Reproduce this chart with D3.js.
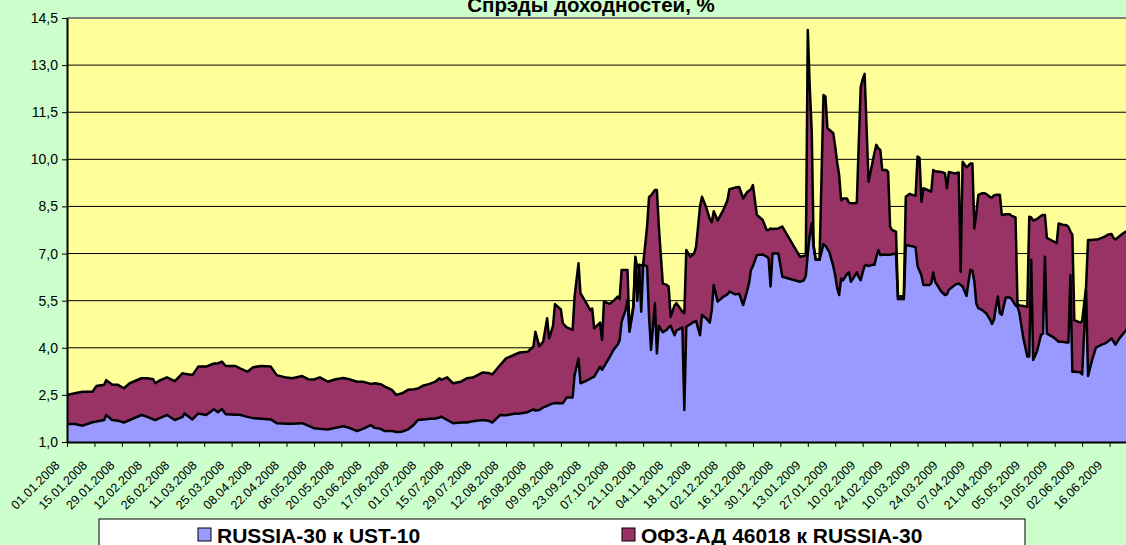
<!DOCTYPE html>
<html lang="ru">
<head>
<meta charset="UTF-8">
<title>Спрэды доходностей, %</title>
<script src="https://d3js.org/d3.v7.min.js"></script>
<style>
    body { margin: 0; background: #CCFFCC; }
    svg { display: block; font-family: Arial, "Liberation Sans", sans-serif; }
</style>
</head>
<body>
<div id="chart"></div>
<script>
// Dates of observations
const dates = [
    "01.01.2008","05.01.2008","09.01.2008","14.01.2008","16.01.2008","20.01.2008","21.01.2008","24.01.2008","27.01.2008","30.01.2008",
    "02.02.2008","08.02.2008","11.02.2008","14.02.2008","15.02.2008","17.02.2008","21.02.2008","25.02.2008","29.02.2008","01.03.2008",
    "05.03.2008","08.03.2008","12.03.2008","16.03.2008","18.03.2008","20.03.2008","22.03.2008","27.03.2008","29.03.2008","02.04.2008",
    "05.04.2008","09.04.2008","14.04.2008","17.04.2008","22.04.2008","25.04.2008","30.04.2008","03.05.2008","06.05.2008","09.05.2008",
    "13.05.2008","17.05.2008","21.05.2008","24.05.2008","28.05.2008","31.05.2008","04.06.2008","06.06.2008","09.06.2008","11.06.2008",
    "15.06.2008","17.06.2008","20.06.2008","23.06.2008","26.06.2008","28.06.2008","01.07.2008","04.07.2008","07.07.2008","09.07.2008",
    "10.07.2008","13.07.2008","16.07.2008","20.07.2008","23.07.2008","26.07.2008","31.07.2008","03.08.2008","05.08.2008","09.08.2008",
    "12.08.2008","16.08.2008","19.08.2008","23.08.2008","26.08.2008","27.08.2008","29.08.2008","31.08.2008","02.09.2008","03.09.2008",
    "05.09.2008","06.09.2008","09.09.2008","10.09.2008","12.09.2008","15.09.2008","16.09.2008","18.09.2008","19.09.2008","22.09.2008",
    "24.09.2008","25.09.2008","26.09.2008","29.09.2008","30.09.2008","01.10.2008","04.10.2008","06.10.2008","08.10.2008","09.10.2008",
    "10.10.2008","12.10.2008","13.10.2008","14.10.2008","16.10.2008","17.10.2008","18.10.2008","19.10.2008","20.10.2008","21.10.2008",
    "23.10.2008","24.10.2008","25.10.2008","27.10.2008","28.10.2008","29.10.2008","31.10.2008","02.11.2008","03.11.2008","04.11.2008",
    "06.11.2008","07.11.2008","10.11.2008","11.11.2008","12.11.2008","14.11.2008","16.11.2008","17.11.2008","19.11.2008","20.11.2008",
    "22.11.2008","24.11.2008","25.11.2008","26.11.2008","28.11.2008","01.12.2008","03.12.2008","04.12.2008","07.12.2008","09.12.2008",
    "11.12.2008","13.12.2008","14.12.2008","15.12.2008","16.12.2008","18.12.2008","21.12.2008","23.12.2008","24.12.2008","25.12.2008",
    "26.12.2008","29.12.2008","31.12.2008","09.01.2009","11.01.2009","12.01.2009","13.01.2009","14.01.2009","15.01.2009","16.01.2009",
    "17.01.2009","19.01.2009","21.01.2009","22.01.2009","23.01.2009","24.01.2009","26.01.2009","27.01.2009","28.01.2009","29.01.2009",
    "30.01.2009","31.01.2009","02.02.2009","03.02.2009","04.02.2009","06.02.2009","07.02.2009","08.02.2009","09.02.2009","10.02.2009",
    "11.02.2009","12.02.2009","13.02.2009","15.02.2009","16.02.2009","17.02.2009","18.02.2009","19.02.2009","20.02.2009","22.02.2009",
    "23.02.2009","24.02.2009","25.02.2009","27.02.2009","28.02.2009","03.03.2009","04.03.2009","06.03.2009","08.03.2009","09.03.2009",
    "10.03.2009","11.03.2009","12.03.2009","13.03.2009","16.03.2009","17.03.2009","18.03.2009","19.03.2009","22.03.2009","24.03.2009",
    "25.03.2009","26.03.2009","29.03.2009","31.03.2009","01.04.2009","02.04.2009","04.04.2009","05.04.2009","06.04.2009","07.04.2009",
    "08.04.2009","09.04.2009","10.04.2009","12.04.2009","13.04.2009","14.04.2009","15.04.2009","16.04.2009","17.04.2009","18.04.2009",
    "19.04.2009","20.04.2009","21.04.2009","22.04.2009","24.04.2009","26.04.2009","27.04.2009","29.04.2009","30.04.2009","01.05.2009",
    "03.05.2009","05.05.2009","06.05.2009","07.05.2009","08.05.2009","10.05.2009","12.05.2009","13.05.2009","14.05.2009","15.05.2009",
    "18.05.2009","20.05.2009","21.05.2009","23.05.2009","25.05.2009","26.05.2009","27.05.2009","28.05.2009","29.05.2009","01.06.2009",
    "02.06.2009","04.06.2009","05.06.2009","07.06.2009","09.06.2009","10.06.2009","12.06.2009","14.06.2009","15.06.2009","17.06.2009",
    "18.06.2009","19.06.2009","21.06.2009","23.06.2009","25.06.2009"
];

// RUSSIA-30 к UST-10
const russia30 = [
    1.57,1.57,1.52,1.63,1.65,1.70,1.86,1.70,1.68,1.62,
    1.70,1.86,1.80,1.72,1.70,1.75,1.86,1.70,1.80,1.91,
    1.72,1.91,1.86,2.04,1.95,2.05,1.88,1.87,1.87,1.80,
    1.76,1.74,1.72,1.60,1.58,1.58,1.60,1.52,1.44,1.42,
    1.40,1.45,1.50,1.45,1.35,1.42,1.54,1.45,1.42,1.35,
    1.35,1.32,1.33,1.40,1.55,1.70,1.72,1.74,1.75,1.78,
    1.81,1.70,1.60,1.62,1.62,1.66,1.70,1.68,1.62,1.86,
    1.85,1.90,1.91,1.95,2.04,2.00,2.02,2.10,2.15,2.18,
    2.23,2.24,2.23,2.23,2.42,2.42,3.13,3.66,2.87,2.95,
    3.02,3.05,3.08,3.40,3.30,3.40,3.72,3.95,4.10,4.25,
    4.83,5.20,5.52,4.51,5.26,6.85,5.50,6.58,5.15,6.64,
    6.60,5.00,3.93,5.42,3.82,4.70,4.50,4.57,4.65,4.70,
    4.40,4.55,4.65,2.02,4.67,4.75,4.83,4.85,4.40,5.04,
    4.95,4.80,5.20,6.00,5.47,5.63,5.70,5.79,5.70,5.72,
    5.36,5.80,6.05,6.48,6.60,6.95,6.97,6.90,6.85,5.95,
    7.00,7.00,6.26,6.10,6.15,6.30,7.00,7.60,7.96,7.20,
    6.80,6.80,7.30,7.25,7.15,7.05,6.60,6.30,5.90,5.68,
    6.20,6.15,6.35,6.40,6.10,6.30,6.40,6.25,6.15,6.40,
    6.60,6.64,6.60,6.64,6.64,6.90,7.11,6.95,6.96,6.96,
    6.96,6.96,6.98,7.00,5.55,5.55,7.27,7.25,7.22,7.20,
    6.60,6.45,6.30,6.00,6.00,6.05,6.40,6.10,5.80,5.68,
    5.70,5.85,6.00,6.05,6.00,5.95,5.65,6.10,6.48,6.45,
    6.10,5.40,5.26,5.20,5.15,5.10,5.00,4.90,4.76,4.90,
    5.30,5.63,5.10,5.05,5.60,5.60,5.55,5.35,5.31,5.10,
    4.30,3.72,3.72,6.80,3.61,3.90,4.41,4.45,6.90,4.45,
    4.35,4.25,4.19,4.19,4.17,4.17,6.32,3.24,3.24,3.22,
    3.15,5.84,3.10,3.60,4.00,4.04,4.10,4.15,4.19,4.30,
    4.20,4.10,4.30,4.45,4.62
];

// ОФЗ-АД 46018 к RUSSIA-30
const ofz = [
    0.93,0.98,1.08,0.97,1.13,1.12,1.11,1.13,1.14,1.09,
    1.17,1.17,1.23,1.28,1.17,1.20,1.20,1.24,1.39,1.26,
    1.41,1.49,1.54,1.46,1.55,1.51,1.54,1.55,1.48,1.44,
    1.62,1.68,1.68,1.53,1.47,1.45,1.50,1.48,1.55,1.64,
    1.52,1.55,1.54,1.55,1.57,1.50,1.31,1.42,1.42,1.42,
    1.30,1.18,1.22,1.26,1.13,1.00,1.08,1.11,1.17,1.25,
    1.17,1.36,1.27,1.30,1.41,1.39,1.51,1.52,1.53,1.59,
    1.81,1.87,1.94,1.92,2.00,2.51,2.03,2.10,2.79,2.12,
    2.47,3.15,2.99,2.55,2.23,2.15,2.50,3.03,2.87,2.47,
    2.18,2.20,1.54,1.40,0.95,2.07,1.68,1.55,1.53,1.30,
    1.65,1.28,0.96,0.04,0.09,0.05,1.05,0.07,1.47,0.02,
    1.26,3.81,4.92,3.60,5.20,3.16,1.55,1.43,1.30,0.29,
    0.95,0.87,0.50,3.08,2.44,2.15,2.17,2.37,4.10,3.77,
    3.55,3.30,2.80,2.35,2.58,2.77,3.00,3.26,3.40,3.40,
    3.40,3.15,2.95,2.57,2.58,1.28,1.10,0.85,0.90,1.85,
    0.78,0.80,1.60,0.80,0.77,0.65,7.12,4.70,2.94,0.05,
    0.02,0.02,4.75,4.75,3.85,3.89,4.23,4.10,4.00,3.82,
    2.50,2.60,2.40,2.22,2.50,2.30,2.22,4.25,6.15,6.15,
    6.12,4.36,2.69,3.26,3.56,3.56,3.24,3.35,2.70,2.70,
    2.64,0.90,0.77,0.70,0.08,0.10,1.54,1.65,1.63,1.65,
    3.49,3.60,2.35,3.08,3.00,2.92,3.26,3.52,3.80,3.88,
    3.38,3.75,3.55,3.53,0.42,3.97,4.10,3.70,3.39,3.42,
    1.70,2.88,3.61,3.72,3.77,3.80,3.85,3.90,4.02,3.95,
    3.57,3.24,3.77,3.18,2.65,2.65,2.65,2.80,0.09,0.25,
    1.03,1.58,4.45,1.35,4.44,4.20,3.79,3.78,1.33,3.05,
    3.05,3.08,3.77,3.73,3.73,3.68,1.38,4.36,1.64,1.58,
    1.70,0.11,4.33,3.83,3.45,3.41,3.40,3.40,3.41,3.32,
    3.30,3.35,3.25,3.20,3.10
];

// Axis ticks
const xTickLabels = [
    "01.01.2008","15.01.2008","29.01.2008","12.02.2008","26.02.2008","11.03.2008","25.03.2008","08.04.2008",
    "22.04.2008","06.05.2008","20.05.2008","03.06.2008","17.06.2008","01.07.2008","15.07.2008","29.07.2008",
    "12.08.2008","26.08.2008","09.09.2008","23.09.2008","07.10.2008","21.10.2008","04.11.2008","18.11.2008",
    "02.12.2008","16.12.2008","30.12.2008","13.01.2009","27.01.2009","10.02.2009","24.02.2009","10.03.2009",
    "24.03.2009","07.04.2009","21.04.2009","05.05.2009","19.05.2009","02.06.2009","16.06.2009"
];
const yTicks = [1.0, 2.5, 4.0, 5.5, 7.0, 8.5, 10.0, 11.5, 13.0, 14.5];

const seriesNames = ["RUSSIA-30 к UST-10", "ОФЗ-АД 46018 к RUSSIA-30"];
const colors = ["#9999FF", "#993366"];

// Layout
const width = 1126, height = 545;
const margin = {top: 18, left: 67};
const plotW = 1072, plotH = 424;

const parse = d3.timeParse("%d.%m.%Y");
const fmt = d3.timeFormat("%d.%m.%Y");

const rows = dates.map((d, i) => ({date: parse(d), russia30: russia30[i], ofz: ofz[i]}));
const stacked = d3.stack().keys(["russia30", "ofz"])(rows);

const x = d3.scaleTime()
    .domain([parse("01.01.2008"), parse("01.07.2009")])
    .range([0, plotW]);
const y = d3.scaleLinear()
    .domain([1, 14.5])
    .range([plotH, 0]);

const svg = d3.select("#chart").append("svg")
    .attr("width", width)
    .attr("height", height);

svg.append("rect")
    .attr("width", width).attr("height", height)
    .attr("fill", "#CCFFCC");

// Title (cropped at the top, as in the source picture)
svg.append("text")
    .attr("x", 591).attr("y", 12)
    .attr("text-anchor", "middle")
    .style("font-size", "20.5px").style("font-weight", "bold")
    .text("Спрэды доходностей, %");

const g = svg.append("g")
    .attr("transform", `translate(${margin.left},${margin.top})`);

// Plot background
g.append("rect")
    .attr("width", plotW).attr("height", plotH)
    .attr("fill", "#FFFF99");

// Gridlines
g.append("g")
    .selectAll("line")
    .data(yTicks.slice(1, -1))
    .join("line")
        .attr("x1", 0).attr("x2", plotW)
        .attr("y1", d => y(d)).attr("y2", d => y(d))
        .attr("stroke", "#000").attr("stroke-width", 1);

// Top border of plot area
g.append("line")
    .attr("x1", 0).attr("x2", plotW)
    .attr("y1", y(14.5)).attr("y2", y(14.5))
    .attr("stroke", "#808080").attr("stroke-width", 2);

// Areas
const area = d3.area()
    .x(d => x(d.data.date))
    .y0(d => y(Math.max(d[0], 1)))
    .y1(d => y(d[1]));

g.append("g")
    .selectAll("path")
    .data(stacked)
    .join("path")
        .attr("d", area)
        .attr("fill", (d, i) => colors[i]);

// Black outlines on top of each layer
const line = d3.line()
    .x(d => x(d.data.date))
    .y(d => y(d[1]));

g.append("g")
    .selectAll("path")
    .data(stacked)
    .join("path")
        .attr("d", line)
        .attr("fill", "none")
        .attr("stroke", "#000")
        .attr("stroke-width", 2.5)
        .attr("stroke-linejoin", "round");

// Y axis
const yAxis = g.append("g")
    .call(d3.axisLeft(y)
        .tickValues(yTicks)
        .tickSize(5)
        .tickSizeOuter(0)
        .tickPadding(4)
        .tickFormat(d => d3.format(".1f")(d).replace(".", ",")));
yAxis.select(".domain").attr("stroke", "#000").attr("stroke-width", 2);
yAxis.selectAll("text").style("font-size", "14px").attr("fill", "#000");

// X axis
const xAxis = g.append("g")
    .attr("transform", `translate(0,${plotH})`)
    .call(d3.axisBottom(x)
        .tickValues(xTickLabels.map(parse))
        .tickSize(5)
        .tickSizeOuter(0)
        .tickFormat(fmt));
xAxis.select(".domain").attr("stroke", "#000").attr("stroke-width", 2);
xAxis.selectAll("text")
    .style("font-size", "12.5px")
    .attr("fill", "#000")
    .attr("text-anchor", "end")
    .attr("x", 0).attr("y", 0).attr("dy", 0)
    .attr("transform", "translate(-7,24) rotate(-45)");

// Legend
svg.append("rect")
    .attr("x", 99).attr("y", 519)
    .attr("width", 926).attr("height", 40)
    .attr("fill", "#fff").attr("stroke", "#000");

const legendX = [198, 622];
const legend = svg.append("g")
    .selectAll("g")
    .data(seriesNames)
    .join("g")
        .attr("transform", (d, i) => `translate(${legendX[i]},528)`);

legend.append("rect")
    .attr("width", 13).attr("height", 13)
    .attr("fill", (d, i) => colors[i])
    .attr("stroke", "#000");

legend.append("text")
    .attr("x", 19).attr("y", 15)
    .style("font-size", "21px").style("font-weight", "bold")
    .text(d => d);
</script>
</body>
</html>
